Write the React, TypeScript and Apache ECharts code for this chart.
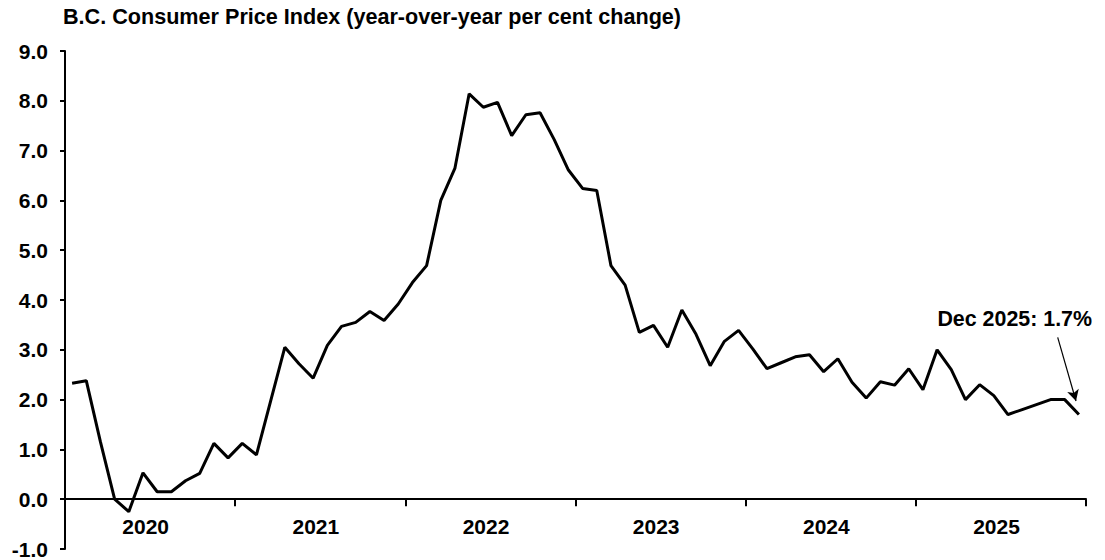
import React, { useEffect, useRef } from "react";
import * as echarts from "echarts";

const years = ["2020", "2021", "2022", "2023", "2024", "2025"];
const monthNames = ["Jan", "Feb", "Mar", "Apr", "May", "Jun", "Jul", "Aug", "Sep", "Oct", "Nov", "Dec"];

const cpi2020 = [2.33, 2.38, 1.15, 0.0, -0.25, 0.53, 0.15, 0.15, 0.37, 0.52, 1.12, 0.83];
const cpi2021 = [1.12, 0.89, 1.97, 3.05, 2.72, 2.43, 3.09, 3.47, 3.55, 3.77, 3.59, 3.92];
const cpi2022 = [4.35, 4.69, 6.0, 6.65, 8.14, 7.87, 7.97, 7.3, 7.72, 7.76, 7.22, 6.61];
const cpi2023 = [6.24, 6.2, 4.69, 4.3, 3.35, 3.49, 3.05, 3.8, 3.31, 2.68, 3.17, 3.39];
const cpi2024 = [3.02, 2.62, 2.74, 2.86, 2.9, 2.56, 2.82, 2.35, 2.03, 2.36, 2.29, 2.62];
const cpi2025 = [2.2, 3.0, 2.6, 2.0, 2.3, 2.08, 1.7, 1.8, 1.9, 2.0, 2.0, 1.7];

const yTicks = { min: -1, max: 9, interval: 1 };
const titleText = "B.C. Consumer Price Index (year-over-year per cent change)";
const noteText = "Dec 2025: 1.7%";

const months: string[] = [];
years.forEach((y) => monthNames.forEach((m) => months.push(m + " " + y)));
const values = [...cpi2020, ...cpi2021, ...cpi2022, ...cpi2023, ...cpi2024, ...cpi2025];

const FONT = "'Liberation Sans', Arial, sans-serif";
const GRID_TOP = 51;
const GRID_BOTTOM = 11;
const PLOT_H = 560 - GRID_TOP - GRID_BOTTOM;
// distance from the bottom of the plot to the zero line, derived from the y scale
const ZERO_OFFSET = (PLOT_H * (0 - yTicks.min)) / (yTicks.max - yTicks.min);

export default function App() {
  const ref = useRef<HTMLDivElement>(null);
  useEffect(() => {
    if (!ref.current) return;
    const chart = echarts.init(ref.current, null, { renderer: "svg" });
    chart.setOption({
      animation: false,
      backgroundColor: "#ffffff",
      textStyle: { fontFamily: FONT },
      title: {
        text: titleText,
        left: 63,
        top: 5,
        padding: 0,
        textStyle: { fontFamily: FONT, fontSize: 21.6, fontWeight: "bold", color: "#000" },
      },
      grid: { left: 65, right: 19, top: GRID_TOP, bottom: GRID_BOTTOM, containLabel: false, outerBoundsMode: "none" },
      xAxis: {
        type: "category",
        data: months,
        boundaryGap: true,
        position: "bottom",
        offset: -ZERO_OFFSET,
        axisLine: { show: true, onZero: false, lineStyle: { color: "#000", width: 2 } },
        axisTick: { show: true, interval: 11, length: 7, lineStyle: { color: "#000", width: 2 } },
        axisLabel: {
          interval: (i: number) => i % 12 === 6,
          formatter: (v: string) => v.slice(4),
          margin: 17,
          fontFamily: FONT,
          fontSize: 21,
          fontWeight: "bold",
          color: "#000",
          padding: [0, 23, 0, 0],
        },
        splitLine: { show: false },
      },
      yAxis: {
        type: "value",
        min: yTicks.min,
        max: yTicks.max,
        interval: yTicks.interval,
        axisLine: { show: true, lineStyle: { color: "#000", width: 2 } },
        axisTick: { show: true, length: 5, lineStyle: { color: "#000", width: 2 } },
        axisLabel: {
          formatter: (v: number) => v.toFixed(1),
          margin: 17,
          fontFamily: FONT,
          fontSize: 21,
          fontWeight: "bold",
          color: "#000",
        },
        splitLine: { show: false },
      },
      series: [
        {
          type: "line",
          data: values,
          showSymbol: false,
          symbol: "none",
          lineStyle: { color: "#000", width: 3 },
          markLine: {
            silent: true,
            symbol: ["none", "arrow"],
            symbolSize: [9, 11],
            label: { show: false },
            lineStyle: { color: "#000", width: 1.2, type: "solid" },
            data: [[{ x: 1057.7, y: 337.3 }, { x: 1076, y: 401 }]],
          },
        },
      ],
      graphic: [
        {
          type: "text",
          x: 1092,
          y: 319,
          style: {
            text: noteText,
            font: "bold 21.4px " + FONT,
            fill: "#000",
            align: "right",
            verticalAlign: "middle",
          },
        },
      ],
    });
    return () => chart.dispose();
  }, []);
  return (
    <div
      ref={ref}
      style={{ position: "absolute", left: 0, top: 0, width: 1105, height: 560 }}
    />
  );
}
